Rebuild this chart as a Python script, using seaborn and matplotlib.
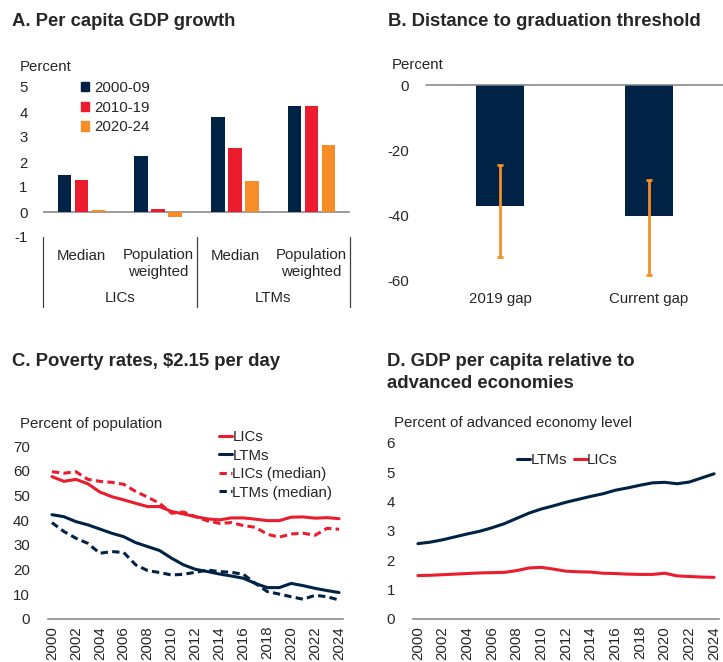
import numpy as np
import pandas as pd
import matplotlib
matplotlib.use("Agg")
import matplotlib.pyplot as plt
import seaborn as sns
from matplotlib.lines import Line2D
from matplotlib.patches import Patch

# ---------------- data ----------------
# Panel A
a_groups = ["LICs Median", "LICs Pop", "LTMs Median", "LTMs Pop"]
a_periods = ["2000-09", "2010-19", "2020-24"]
a_2000_09 = [1.47, 2.24, 3.79, 4.25]
a_2010_19 = [1.29, 0.13, 2.55, 4.24]
a_2020_24 = [0.09, -0.20, 1.25, 2.70]

# Panel B
b_cats = ["2019 gap", "Current gap"]
b_gap = [-37.3, -40.3]
b_range_high = [-24.6, -29.2]
b_range_low = [-52.9, -58.4]

# Panel C
years = list(range(2000, 2025))
c_lics = [57.6, 55.7, 56.5, 54.7, 51.4, 49.5, 48.2, 46.8, 45.5, 45.5, 43.5, 42.5,
          41.4, 40.5, 40.1, 40.9, 40.9, 40.4, 39.8, 39.8, 41.2, 41.3, 40.8, 41.0, 40.6]
c_ltms = [42.2, 41.4, 39.4, 38.1, 36.4, 34.7, 33.3, 30.9, 29.3, 27.7, 24.6, 21.9,
          20.1, 19.2, 18.2, 17.4, 16.5, 14.4, 12.7, 12.7, 14.4, 13.5, 12.4, 11.5, 10.7]
c_lics_med = [59.6, 59.0, 59.6, 56.5, 55.7, 55.3, 54.5, 51.6, 49.3, 46.8, 42.8, 43.3,
              41.4, 39.7, 38.7, 39.0, 37.8, 37.1, 34.3, 33.1, 34.4, 34.7, 33.9, 36.7, 36.3]
c_ltms_med = [39.0, 35.4, 32.7, 30.6, 26.6, 27.3, 26.9, 21.9, 19.6, 18.8, 17.8, 18.1,
              18.9, 19.8, 19.2, 18.9, 18.1, 14.4, 11.1, 10.1, 9.0, 8.0, 9.6, 9.0, 7.7]

# Panel D
d_ltms = [2.57, 2.62, 2.70, 2.80, 2.90, 2.99, 3.11, 3.25, 3.43, 3.61, 3.75, 3.86,
          3.98, 4.08, 4.18, 4.27, 4.39, 4.47, 4.56, 4.64, 4.66, 4.61, 4.67, 4.81, 4.95]
d_lics = [1.48, 1.49, 1.51, 1.53, 1.55, 1.57, 1.58, 1.59, 1.65, 1.74, 1.76, 1.70,
          1.63, 1.61, 1.60, 1.56, 1.55, 1.53, 1.52, 1.52, 1.56, 1.47, 1.45, 1.43, 1.42]

NAVY = "#002345"
RED = "#EB1C2D"
ORANGE = "#F78D28"
GRAY = "#808080"

sns.set_style("white")
plt.rcParams["font.family"] = ["Liberation Sans", "DejaVu Sans"]
plt.rcParams["axes.unicode_minus"] = False
FS = 10.8
plt.rcParams["font.size"] = FS

W, H = 723, 662
fig = plt.figure(figsize=(W / 100, H / 100), dpi=100)


def px_axes(x0, y_top, x1, y_bot):
    return fig.add_axes([x0 / W, 1 - y_bot / H, (x1 - x0) / W, (y_bot - y_top) / H])


def ftext(x, y, s, **kw):
    fig.text(x / W, 1 - y / H, s, **kw)


TFS = 13.3
# ---------------- Panel A ----------------
ftext(12, 22, "A. Per capita GDP growth", fontsize=TFS, fontweight="bold", va="center")
ftext(20, 67, "Percent", fontsize=FS, va="center")
axA = px_axes(43, 87, 350, 237)
dfA = pd.DataFrame({
    "group": a_groups * 3,
    "period": [a_periods[0]] * 4 + [a_periods[1]] * 4 + [a_periods[2]] * 4,
    "value": a_2000_09 + a_2010_19 + a_2020_24,
})
sns.barplot(data=dfA, x="group", y="value", hue="period", order=a_groups,
            hue_order=a_periods, palette=[NAVY, RED, ORANGE], width=0.66, gap=0.2,
            errorbar=None, ax=axA, saturation=1, edgecolor="none")
axA.set_ylim(-1, 5)
axA.set_xlim(-0.5, 3.5)
axA.set_yticks([-1, 0, 1, 2, 3, 4, 5])
axA.set_xticks([])
axA.set_xlabel("")
axA.set_ylabel("")
for s in axA.spines.values():
    s.set_visible(False)
axA.axhline(0, color=GRAY, lw=1.1, zorder=0)
axA.tick_params(axis="y", length=0, pad=11, labelsize=FS)
handles = [Patch(color=c) for c in [NAVY, RED, ORANGE]]
axA.legend(handles, a_periods, loc="upper left", bbox_to_anchor=(81 / W, 1 - 81 / H),
           bbox_transform=fig.transFigure, frameon=False, fontsize=FS,
           handlelength=0.55, handleheight=0.6, handletextpad=0.35, labelspacing=0.38,
           borderpad=0, borderaxespad=0)
sub_labels = ["Median", "Population\nweighted", "Median", "Population\nweighted"]
for i, lab in enumerate(sub_labels):
    axA.text(i, -1.46, lab, ha="center", va="top",
             fontsize=FS, linespacing=1.2, transform=axA.transData, clip_on=False)
for i, lab in enumerate(["LICs", "LTMs"]):
    axA.text(0.5 + 2 * i, -3.46, lab, ha="center", va="center", fontsize=FS, clip_on=False)
for xv in [-0.5, 1.5, 3.5]:
    axA.plot([xv, xv], [-1, -3.8], color="#404040", lw=0.9, clip_on=False)

# ---------------- Panel B ----------------
ftext(388, 22, "B. Distance to graduation threshold", fontsize=TFS, fontweight="bold", va="center")
ftext(392, 65, "Percent", fontsize=FS, va="center")
axB = px_axes(426, 85, 723, 280)
dfB = pd.DataFrame({"cat": b_cats, "gap": b_gap})
sns.barplot(data=dfB, x="cat", y="gap", color=NAVY, saturation=1, width=0.32,
            errorbar=None, ax=axB, edgecolor="none")
xs = np.arange(len(b_cats))
axB.vlines(xs, b_range_low, b_range_high, color=ORANGE, lw=2, zorder=3)
axB.plot(xs, b_range_low, ls="none", marker="_", color=ORANGE, ms=4, mew=2, zorder=3)
axB.plot(xs, b_range_high, ls="none", marker="_", color=ORANGE, ms=4, mew=2, zorder=3)
axB.set_ylim(-60, 0)
axB.set_xlim(-0.5, 1.5)
axB.set_yticks([-60, -40, -20, 0])
axB.set_xlabel("")
axB.set_ylabel("")
for s in axB.spines.values():
    s.set_visible(False)
axB.axhline(0, color=GRAY, lw=1.1, zorder=4, clip_on=False)
axB.tick_params(axis="y", length=0, pad=12, labelsize=FS)
axB.tick_params(axis="x", length=0, pad=9, labelsize=FS)

# ---------------- Panel C ----------------
ftext(12, 362, "C. Poverty rates, $2.15 per day", fontsize=TFS, fontweight="bold", va="center")
ftext(20, 424, "Percent of population", fontsize=FS, va="center")
axC = px_axes(48, 446, 343, 619)
sns.lineplot(x=years, y=c_lics, color=RED, lw=2.2, ax=axC, label="LICs")
sns.lineplot(x=years, y=c_ltms, color=NAVY, lw=2.2, ax=axC, label="LTMs")
sns.lineplot(x=years, y=c_lics_med, color=RED, lw=2.2, ax=axC, label="LICs (median)")
sns.lineplot(x=years, y=c_ltms_med, color=NAVY, lw=2.2, ax=axC, label="LTMs (median)")
axC.lines[2].set_dashes((2.4, 1.4))
axC.lines[3].set_dashes((2.4, 1.4))
axC.set_xlim(1999.67, 2024.33)
axC.set_ylim(0, 70)
axC.set_yticks(range(0, 71, 10))
axC.set_xticks(range(2000, 2025, 2))
axC.tick_params(axis="x", rotation=90, length=0, pad=5, labelsize=FS)
axC.tick_params(axis="y", length=0, pad=13, labelsize=FS)
for k in ["top", "right", "left"]:
    axC.spines[k].set_visible(False)
axC.spines["bottom"].set_color(GRAY)
axC.spines["bottom"].set_linewidth(1.1)
hC = [Line2D([0], [0], color=RED, lw=2.2), Line2D([0], [0], color=NAVY, lw=2.2),
      Line2D([0], [0], color=RED, lw=2.2, dashes=(2.4, 1.4)),
      Line2D([0], [0], color=NAVY, lw=2.2, dashes=(2.4, 1.4))]
axC.legend(hC, ["LICs", "LTMs", "LICs (median)", "LTMs (median)"], loc="upper left",
           bbox_to_anchor=(219 / W, 1 - 430 / H), bbox_transform=fig.transFigure,
           frameon=False, fontsize=FS, handlelength=0.85, handletextpad=0.05,
           labelspacing=0.3, borderpad=0, borderaxespad=0)

# ---------------- Panel D ----------------
ftext(387, 362, "D. GDP per capita relative to", fontsize=TFS, fontweight="bold", va="center")
ftext(387, 383, "advanced economies", fontsize=TFS, fontweight="bold", va="center")
ftext(394, 423, "Percent of advanced economy level", fontsize=FS, va="center")
axD = px_axes(413, 443, 719, 619)
sns.lineplot(x=years, y=d_ltms, color=NAVY, lw=2.2, ax=axD, label="LTMs")
sns.lineplot(x=years, y=d_lics, color=RED, lw=2.2, ax=axD, label="LICs")
axD.set_xlim(1999.6, 2024.4)
axD.set_ylim(0, 6)
axD.set_yticks(range(0, 7))
axD.set_xticks(range(2000, 2025, 2))
axD.tick_params(axis="x", rotation=90, length=0, pad=5, labelsize=FS)
axD.tick_params(axis="y", length=0, pad=13, labelsize=FS)
for k in ["top", "right", "left"]:
    axD.spines[k].set_visible(False)
axD.spines["bottom"].set_color(GRAY)
axD.spines["bottom"].set_linewidth(1.1)
axD.legend(loc="upper left", bbox_to_anchor=(517 / W, 1 - 453 / H),
           bbox_transform=fig.transFigure, ncol=2, frameon=False, fontsize=FS,
           handlelength=0.85, handletextpad=0.05, columnspacing=0.45,
           borderpad=0, borderaxespad=0)

fig.savefig("out.png", dpi=100)
